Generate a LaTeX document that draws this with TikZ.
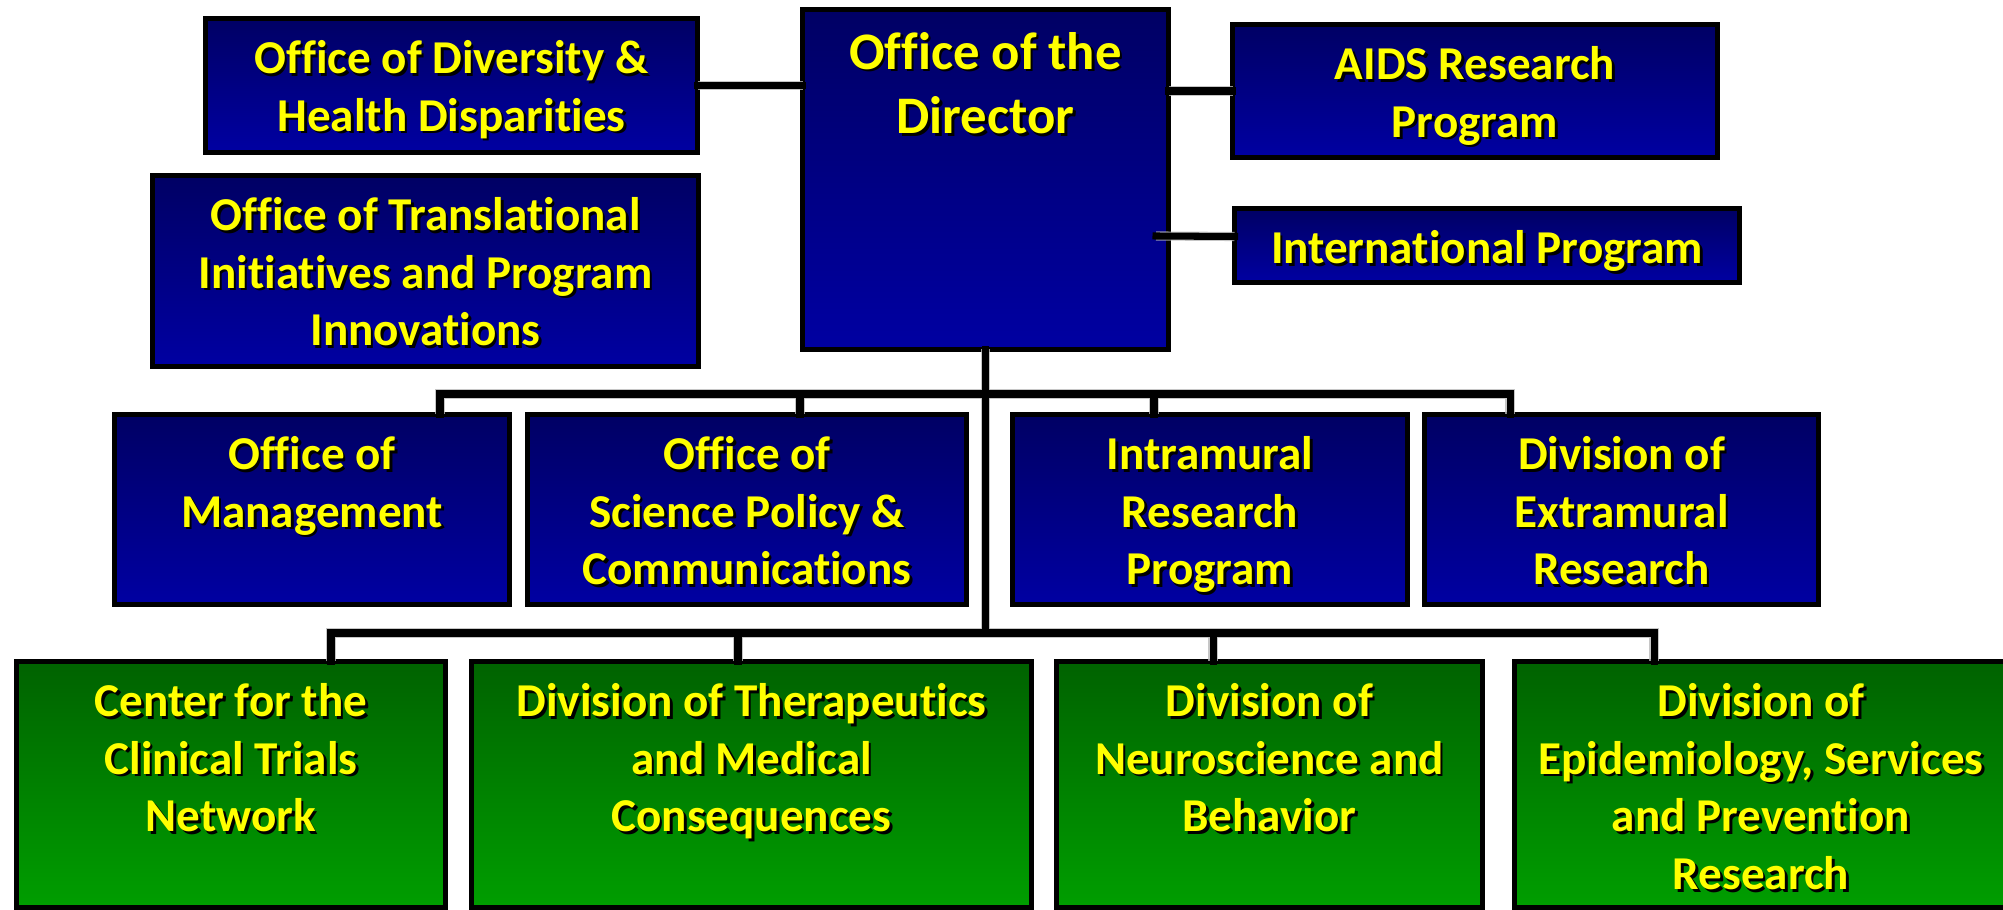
\documentclass[tikz,border=0pt]{standalone}
\usepackage{fontspec}
\setmainfont{Carlito}[Ligatures=NoCommon]
\usetikzlibrary{fit,calc}
\definecolor{bluetop}{RGB}{0,0,100}
\definecolor{bluebot}{RGB}{0,0,162}
\definecolor{greentop}{RGB}{0,98,0}
\definecolor{greenbot}{RGB}{0,158,0}
\definecolor{txtyellow}{RGB}{255,255,0}
\newcommand\labfont{\fontsize{13.4}{16.4}\selectfont\bfseries}
\newcommand\dirfont{\fontsize{15}{18.3}\selectfont\bfseries}
\newcommand\lab[3][\labfont]{%
  \node[labs,font=#1] (#2-s) at ($(#2.north)+(2.5,16.5)$) {\strut #3};
  \node[labt,font=#1] (#2-t) at ($(#2.north)+(0,14)$) {\strut #3};}
\newcommand\conpaths{%
  \draw (div.east) -- (div.east -| dir.west);
  \draw ($(tr.east)+(0,-32)$) -- ($(tr.east)+(0,-32)$ -| dir.west);
  \draw (aids.west) -- (aids.west -| dir.east);
  \draw ($(intl.west)+(0,-9)$) -- (ic);
  \draw (dir.south) -- (dir.south |- b0);
  \draw (m1 |- man.north) -- (m1) -- (m4) -- (m4 |- extra.north);
  \draw (m2) -- (m2 |- sci.north);
  \draw (m3) -- (m3 |- intra.north);
  \draw (b1 |- ctn.north) -- (b1) -- (b4) -- (b4 |- desp.north);
  \draw (b2) -- (b2 |- dtmc.north);
  \draw (b3) -- (b3 |- dnb.north);}
\tikzset{
  boxbase/.style={draw=black, line width=1.42pt, inner sep=0pt, outer sep=0pt, rectangle},
  bluebox/.style={boxbase, top color=bluetop, bottom color=bluebot},
  greenbox/.style={boxbase, top color=greentop, bottom color=greenbot},
  labt/.style={anchor=north, align=center, inner sep=0pt, text=txtyellow},
  labs/.style={anchor=north, align=center, inner sep=0pt, text=black},
  conn/.style={line width=2pt, draw=black, line cap=rect},
  connshadow/.style={line width=2.6pt, draw=black!28, opacity=0.8, line cap=butt}
}
\begin{document}
\begin{tikzpicture}[x=0.01cm, y=-0.01cm]
\useasboundingbox[fill=white] (0,0) rectangle (2003,910);
% top group
\node[bluebox, fit={(205.5,18.5) (697.5,152.5)}] (div) {};
\node[bluebox, fit={(152.5,175.5) (698.5,366.5)}] (tr) {};
\node[bluebox, fit={(802.5,9.5) (1168.5,349.5)}] (dir) {};
\node[bluebox, fit={(1232.5,24.5) (1717.5,157.5)}] (aids) {};
\node[bluebox, fit={(1234.5,208.5) (1739.5,282.5)}] (intl) {};
% middle row
\node[bluebox, fit={(114.5,414.5) (509.5,604.5)}] (man) {};
\node[bluebox, fit={(527.5,414.5) (966.5,604.5)}] (sci) {};
\node[bluebox, fit={(1012.5,414.5) (1407.5,604.5)}] (intra) {};
\node[bluebox, fit={(1424.5,414.5) (1818.5,604.5)}] (extra) {};
% bottom row
\node[greenbox, fit={(16.5,661.5) (445.5,907.5)}] (ctn) {};
\node[greenbox, fit={(471.5,661.5) (1031.5,907.5)}] (dtmc) {};
\node[greenbox, fit={(1056.5,661.5) (1482.5,907.5)}] (dnb) {};
\node[greenbox, fit={(1514.5,661.5) (2007.5,907.5)}] (desp) {};
% junction coordinates
\coordinate (ic) at (1156,236);
\coordinate (m1) at (440,394);
\coordinate (m2) at (800,394);
\coordinate (m3) at (1154,394);
\coordinate (m4) at (1510,394);
\coordinate (b0) at (985,633);
\coordinate (b1) at (331,633);
\coordinate (b2) at (738,633);
\coordinate (b3) at (1213,633);
\coordinate (b4) at (1654,633);
% connector shadows and connectors
\begin{scope}[shift={(3,7)}, every path/.style={connshadow}]
\conpaths
\end{scope}
\begin{scope}[every path/.style={conn}]
\conpaths
\end{scope}
% labels
\lab{div}{Office of Diversity \&\\Health Disparities}
\lab{tr}{Office of Translational\\Initiatives and Program\\Innovations}
\lab[\dirfont]{dir}{Office of the\\Director}
\lab{aids}{AIDS Research\\Program}
\lab{intl}{International Program}
\lab{man}{Office of\\Management}
\lab{sci}{Office of\\Science Policy \&\\Communications}
\lab{intra}{Intramural\\Research\\Program}
\lab{extra}{Division of\\Extramural\\Research}
\lab{ctn}{Center for the\\Clinical Trials\\Network}
\lab{dtmc}{Division of Therapeutics\\and Medical\\Consequences}
\lab{dnb}{Division of\\Neuroscience and\\Behavior}
\lab{desp}{Division of\\Epidemiology, Services\\and Prevention\\Research}
\end{tikzpicture}
\end{document}
